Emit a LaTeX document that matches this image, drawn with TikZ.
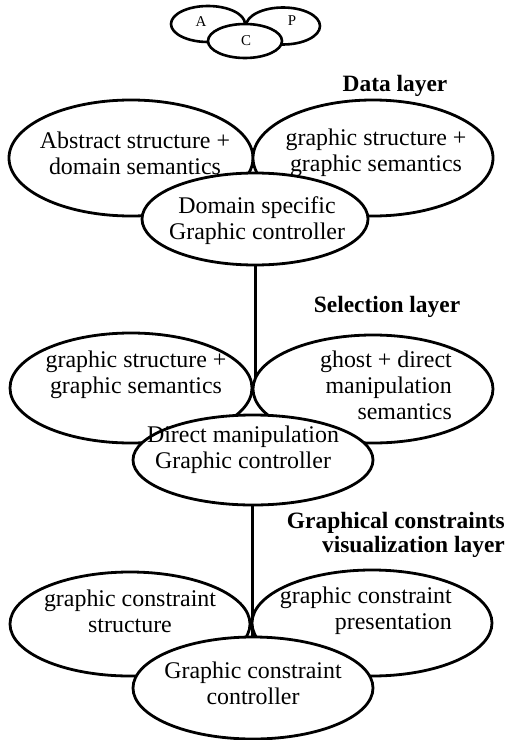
\documentclass[tikz,border=0pt]{standalone}
\usepackage{fontspec}
\setmainfont{Liberation Serif}
\usetikzlibrary{shapes.geometric}
\begin{document}
\begin{tikzpicture}[x=1bp,y=-1bp,
  ell/.style={draw,ellipse,line width=2.8bp,inner sep=0pt,outer sep=0pt,fill=white},
  txt/.style={font=\fontsize{24}{26}\selectfont,align=center,inner sep=0pt},
  txtr/.style={font=\fontsize{24}{26}\selectfont,align=right,inner sep=0pt},
  ttl/.style={font=\fontsize{23.5}{24}\selectfont\bfseries,align=right,inner sep=0pt},
  small/.style={font=\fontsize{15}{16}\selectfont,inner sep=0pt},
  link/.style={line width=3bp}]
\useasboundingbox (0,0) rectangle (509,740);
% icon
\node[ell,line width=2.6bp,minimum width=74bp,minimum height=36bp] (iA) at (208,24) {};
\node[ell,line width=2.6bp,minimum width=74bp,minimum height=37bp] (iP) at (283,26) {};
\node[ell,line width=2.6bp,minimum width=74bp,minimum height=34bp] (iC) at (245,41) {};
\node[small] (lA) at (201,22) {A};
\node[small] (lP) at (292,21) {P};
\node[small] (lC) at (246,41) {C};
% Data layer
\node[ttl] (t1) at (395,86) {Data layer};
\node[ell,minimum width=244bp,minimum height=116bp] (d1) at (131,158) {};
\node[ell,minimum width=240bp,minimum height=116bp] (d2) at (373,158) {};
\node[ell,minimum width=226bp,minimum height=92bp] (d3) at (255,219) {};
\node[txt] (d1t) at (135,153) {Abstract structure +\\domain semantics};
\node[txt] (d2t) at (376,153) {graphic structure +\\graphic semantics};
\node[txt] (d3t) at (257,221) {Domain specific\\Graphic controller};
% Selection layer
\coordinate (c2) at (255,400);
\draw[link] (d3.south) -- (c2);
\node[ttl] (t2) at (387,307) {Selection layer};
\node[ell,minimum width=242bp,minimum height=110bp] (s1) at (131,388) {};
\node[ell,minimum width=240bp,minimum height=108bp] (s2) at (373,389) {};
\node[ell,minimum width=240bp,minimum height=90bp] (s3) at (253,460) {};
\node[txt] (s1t) at (136,375) {graphic structure +\\graphic semantics};
\node[txtr,anchor=east] (s2t) at (452,385) {ghost + direct\\manipulation\\semantics};
\node[txt] (s3t) at (243,450) {Direct manipulation\\Graphic controller};
% Graphical constraints layer
\coordinate (c3) at (252,642);
\draw[link] (s3.south -| c3) -- (c3);
\node[ttl,anchor=east] (t3) at (505,535) {Graphical constraints\\visualization layer};
\node[ell,minimum width=240bp,minimum height=104bp] (g1) at (130,624) {};
\node[ell,minimum width=240bp,minimum height=106bp] (g2) at (372,623) {};
\node[ell,minimum width=240bp,minimum height=102bp] (g3) at (253,688) {};
\node[txt] (g1t) at (130,611) {graphic constraint\\structure};
\node[txtr,anchor=east] (g2t) at (452,611) {graphic constraint\\presentation};
\node[txt] (g3t) at (253,683) {Graphic constraint\\controller};
\end{tikzpicture}
\end{document}
